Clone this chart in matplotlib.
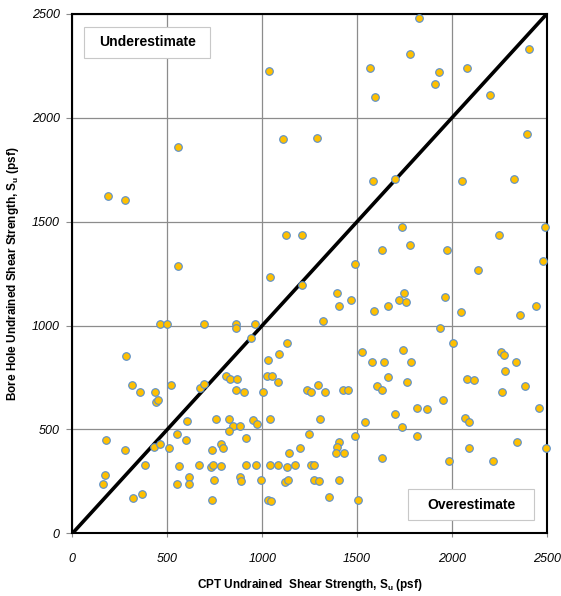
import numpy as np
import matplotlib.pyplot as plt
from matplotlib.patches import Rectangle

plt.rcParams['font.family'] = ['Liberation Sans', 'DejaVu Sans']

# CPT vs bore hole undrained shear strength (psf)
cpt_su = [
    1038, 559, 1107,
    1828, 1779, 1568, 1933, 1911, 1596, 2079, 2405, 2198, 1288, 2393, 1586, 1702, 2053, 2326,
    188, 277, 1123, 1212, 559, 1042, 1207, 463, 498, 691, 861, 861, 961, 939, 1133, 1091, 1033, 283,
    1738, 2247, 2489, 1633, 1781, 1974, 2479, 1491, 2138, 1396, 1402, 1468, 1749, 1721, 1759, 1591,
    1660, 1963, 2047, 2358, 2442, 1321, 1938, 2005, 1526, 1744, 2258, 2275,
    312, 354, 435, 440, 451, 517, 674, 691, 811, 832, 867, 863, 902, 1002, 1025, 1054, 1081,
    602, 759, 824, 846, 881, 823, 949, 972, 1039, 177, 277, 430, 461, 507, 549, 596, 733, 781, 796,
    917, 1249, 1200, 1140, 384, 560, 665, 730, 740, 781, 917, 967, 1039, 1081, 1130, 1175,
    172, 161, 612, 612, 549, 744, 881, 886, 996, 1118, 1135, 319, 367, 735, 1033, 1046,
    1235, 1256, 1296, 1333, 1579, 1639, 1786, 2337, 1663, 1604, 1633, 1763, 2079, 2116, 2281, 2386,
    2263, 1428, 1454, 1302, 1544, 1702, 1816, 1868, 1953, 2067, 2091, 2458, 1738, 1491, 1816, 1402,
    1396, 1389, 1433, 2089, 2342, 2495, 1633, 1986, 2214, 1256, 1272, 1274, 1298, 1407, 1354, 1507,
]
bore_su = [
    2224, 1857, 1899,
    2480, 2306, 2240, 2219, 2161, 2098, 2240, 2332, 2110, 1900, 1919, 1697, 1707, 1697, 1707,
    1623, 1604, 1435, 1435, 1285, 1232, 1193, 1005, 1005, 1005, 1005, 990, 1005, 942, 918, 861, 836, 855,
    1473, 1435, 1473, 1362, 1386, 1362, 1309, 1295, 1266, 1155, 1092, 1121, 1155, 1121, 1111, 1072,
    1092, 1135, 1063, 1053, 1092, 1024, 990, 916, 873, 882, 873, 860,
    715, 681, 681, 633, 643, 715, 699, 718, 758, 745, 745, 691, 681, 681, 755, 755, 729,
    541, 551, 551, 517, 517, 493, 546, 525, 551, 448, 400, 415, 428, 411, 477, 449, 401, 431, 411,
    457, 477, 411, 386, 327, 322, 327, 320, 327, 324, 327, 327, 327, 327, 319, 327,
    279, 240, 269, 240, 240, 259, 269, 254, 259, 246, 259, 168, 188, 163, 163, 158,
    691, 681, 715, 681, 823, 823, 823, 823, 752, 710, 691, 729, 744, 739, 783, 710,
    681, 691, 691, 551, 536, 573, 604, 597, 642, 556, 536, 604, 512, 469, 469, 440,
    415, 386, 386, 411, 440, 411, 362, 346, 346, 327, 327, 259, 254, 259, 177, 163,
]
ticks = [0, 500, 1000, 1500, 2000, 2500]
tick_labels = [str(t) for t in ticks]

fig = plt.figure(figsize=(5.61, 5.96), dpi=100)
ax = fig.add_axes([0.129, 0.105, 0.846, 0.872])

ax.grid(True, color='#8c8c8c', linewidth=0.9)
ax.set_axisbelow(True)
ax.plot([0, 2500], [0, 2500], color='black', linewidth=2.6, zorder=3)
ax.scatter(cpt_su, bore_su, s=30, facecolor='#FFC000', edgecolor='#5B8FCB',
           linewidth=0.8, zorder=4, clip_on=False)

ax.set_xlim(0, 2500)
ax.set_ylim(0, 2500)
ax.tick_params(axis='x', length=3, pad=11, color='#8c8c8c')
ax.tick_params(axis='y', length=4, pad=5, color='#8c8c8c')
ax.set_xticks(ticks, labels=tick_labels, fontstyle='italic', fontsize=9)
ax.set_yticks(ticks, labels=tick_labels, fontstyle='italic', fontsize=9)
for sp in ax.spines.values():
    sp.set_linewidth(1.5)

ax.set_xlabel('CPT Undrained  Shear Strength, S$_\\mathregular{u}$ (psf)',
              fontsize=8.5, fontweight='bold', labelpad=9)
ax.set_ylabel('Bore Hole Undrained Shear Strength, S$_\\mathregular{u}$ (psf)',
              fontsize=8.5, fontweight='bold', labelpad=8)

# label boxes (axes fraction: x, y, w, h)
for (bx, by, bw, bh, txt) in [(0.024, 0.915, 0.267, 0.060, 'Underestimate'),
                              (0.708, 0.025, 0.265, 0.060, 'Overestimate')]:
    ax.add_patch(Rectangle((bx, by), bw, bh, transform=ax.transAxes, facecolor='white',
                           edgecolor='#c8c8c8', linewidth=0.8, zorder=5))
    ax.text(bx + bw / 2, by + bh / 2, txt, transform=ax.transAxes, fontsize=10,
            fontweight='bold', ha='center', va='center', zorder=6)

fig.savefig('out.png', dpi=100)
